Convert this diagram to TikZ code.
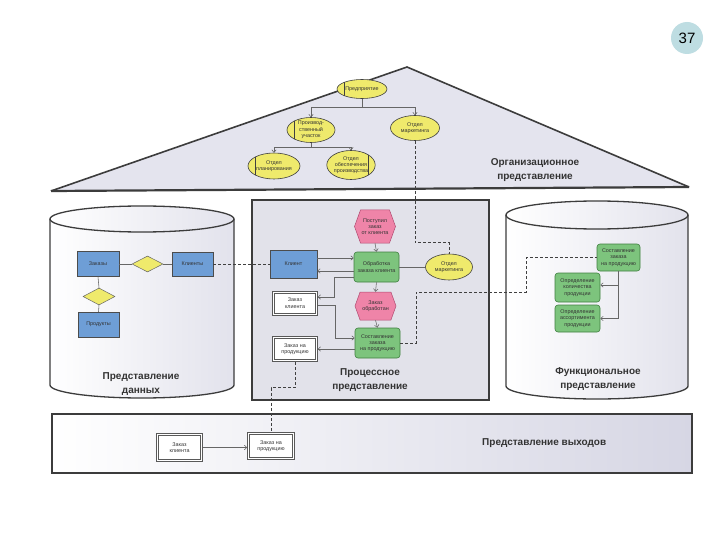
\documentclass[tikz,border=0pt]{standalone}
\usepackage{fontspec}
\setmainfont{Liberation Sans}
\usetikzlibrary{arrows.meta,shapes.geometric,shapes.symbols,calc}
\definecolor{roofc}{HTML}{E4E4EE}
\definecolor{boxc}{HTML}{E2E2EA}
\definecolor{lav}{HTML}{D6D6E4}
\definecolor{ylw}{HTML}{EFEA6C}
\definecolor{blu}{HTML}{6E9ED6}
\definecolor{grn}{HTML}{7DC47D}
\definecolor{grnd}{HTML}{3F7F3F}
\definecolor{pnk}{HTML}{EF84A8}
\definecolor{pnkd}{HTML}{B04A70}
\definecolor{edge}{HTML}{3C3C3C}
\definecolor{badgec}{HTML}{BEDDE2}
\begin{document}
\begin{tikzpicture}[x=1pt,y=-1pt,
  tiny/.style={font=\fontsize{5.4}{6.3}\selectfont, align=center, inner sep=0pt, text=black!80},
  org/.style={ellipse, draw=black!75, fill=ylw, line width=0.6pt, tiny},
  orgL/.style={path picture={\draw[line width=0.6pt,black!75] ([xshift=7pt]path picture bounding box.north west) -- ([xshift=7pt]path picture bounding box.south west);}},
  orgR/.style={path picture={\draw[line width=0.6pt,black!75] ([xshift=-7pt]path picture bounding box.north east) -- ([xshift=-7pt]path picture bounding box.south east);}},
  func/.style={rectangle, rounded corners=3pt, draw=grnd, fill=grn, line width=0.6pt, tiny},
  evt/.style={signal, signal to=east and west, signal pointer angle=140, draw=pnkd, fill=pnk, line width=0.5pt, tiny},
  ent/.style={rectangle, draw=black!70, fill=blu, line width=0.5pt, tiny},
  rel/.style={diamond, draw=black!60, fill=ylw, line width=0.5pt, inner sep=0pt},
  docu/.style={rectangle, draw=black!65, line width=0.5pt, fill=white, tiny,
    path picture={\draw[black!65, line width=0.5pt] ([shift={(1.8pt,-1.8pt)}]path picture bounding box.north west) rectangle ([shift={(-1.8pt,1.8pt)}]path picture bounding box.south east);}},
  conn/.style={draw=black!60, line width=0.55pt},
  arr/.style={conn, -{Straight Barb[length=2.5pt,width=4.5pt]}},
  dsh/.style={draw=black!75, line width=0.8pt, dash pattern=on 3pt off 2pt},
  lbl/.style={font=\bfseries\fontsize{10}{14}\selectfont, align=center, text=black!80, inner sep=0pt},
  cylline/.style={draw=edge, line width=1.3pt}
]
\useasboundingbox (0,0) rectangle (720,540);
\fill[white] (0,0) rectangle (720,540);

% badge
\node[circle, fill=badgec, minimum size=32pt, inner sep=0pt, font=\fontsize{15}{15}\selectfont] (badge) at (687,38) {37};

% roof
\fill[roofc] (51,191) -- (407,67) -- (689,187) -- cycle;
\draw[draw=edge, line width=1.6pt, line join=miter] (51,191) -- (407,67) -- (689,187);
\draw[draw=edge, line width=2.2pt] (51,191) -- (689,187);

% left cylinder
\shade[left color=white, right color=lav!70] (50,219) -- (50,385) arc[start angle=180,end angle=0,x radius=92,y radius=13] -- (234,219) arc[start angle=0,end angle=-180,x radius=92,y radius=13] -- cycle;
\draw[cylline] (50,219) -- (50,385) arc[start angle=180,end angle=0,x radius=92,y radius=13] -- (234,219);
\draw[cylline] (142,219) ellipse[x radius=92,y radius=13];

% right cylinder
\shade[left color=white, right color=lav!70] (506,215) -- (506,386) arc[start angle=180,end angle=0,x radius=91,y radius=13] -- (688,215) arc[start angle=0,end angle=-180,x radius=91,y radius=14] -- cycle;
\draw[cylline] (506,215) -- (506,386) arc[start angle=180,end angle=0,x radius=91,y radius=13] -- (688,215);
\draw[cylline] (597,215) ellipse[x radius=91,y radius=14];

% centre box
\draw[draw=edge, line width=1.6pt, fill=boxc] (252,200) rectangle (489,400);

% output band
\shade[left color=white, right color=lav] (52,414) rectangle (692,473);
\draw[draw=edge, line width=1.6pt] (52,414) rectangle (692,473);

% ---- organisational view ----
\node[org, orgL, minimum width=50pt, minimum height=19pt] (pred) at (362,89) {Предприятие};
\node[org, orgL, minimum width=48pt, minimum height=25pt] (proizv) at (311,130) {Производ-\\ственный\\участок};
\node[org, minimum width=49pt, minimum height=25pt] (mark1) at (415,128) {Отдел\\маркетинга};
\node[org, orgL, minimum width=52pt, minimum height=26pt] (plan) at (274,166) {Отдел\\планирования};
\node[org, orgR, minimum width=48pt, minimum height=29pt] (obesp) at (351,165) {Отдел\\обеспечения\\производства};
\draw[conn] (pred.south) -- ++(0,8) coordinate (j1);
\draw[arr] (j1) -| (proizv.north);
\draw[arr] (j1) -| (mark1.north);
\draw[conn] (proizv.south) -- ++(0,4) coordinate (j2);
\draw[arr] (j2) -| (plan.north);
\draw[arr] (j2) -| (obesp.north);
\node[lbl] (orglbl) at (535,170) {Организационное\\представление};

% ---- data view ----
\node[ent, minimum width=42pt, minimum height=25pt] (zakazy) at (98,264) {Заказы};
\node[rel, minimum width=31pt, minimum height=16pt] (d1) at (147.5,264) {};
\node[ent, minimum width=41pt, minimum height=24pt] (klienty) at (192.5,264) {Клиенты};
\node[rel, minimum width=32pt, minimum height=17pt] (d2) at (99,296.5) {};
\node[ent, minimum width=41pt, minimum height=25pt] (produkty) at (98.5,324.5) {Продукты};
\draw[conn] (zakazy.east) -- (d1.west);
\draw[conn] (d1.east) -- (klienty.west);
\draw[conn] (zakazy.south) -- (d2.north);
\draw[conn] (d2.south) -- (produkty.north);
\node[lbl] (datalbl) at (141,384) {Представление\\данных};

% ---- process view ----
\node[evt, minimum width=41pt, minimum height=33pt] (ev1) at (375,226.5) {Поступил\\заказ\\от клиента};
\node[func, minimum width=45pt, minimum height=30pt] (f1) at (376.5,267) {Обработка\\заказа клиента};
\node[evt, minimum width=41pt, minimum height=28pt] (ev2) at (375.5,306) {Заказ\\обработан};
\node[func, minimum width=45pt, minimum height=30pt] (f2) at (377.5,343) {Составление\\заказа\\на продукцию};
\node[ent, minimum width=47pt, minimum height=28pt] (kl) at (293.5,264) {Клиент};
\node[docu, minimum width=45pt, minimum height=24pt] (zk) at (295,303) {Заказ\\клиента};
\node[docu, minimum width=45pt, minimum height=25pt] (zp) at (295,349) {Заказ на\\продукцию};
\node[org, minimum width=47pt, minimum height=26pt] (mark2) at (449,267) {Отдел\\маркетинга};

\draw[arr] (ev1.south) -- (f1.north);
\draw[arr] (f1.south) -- (ev2.north);
\draw[arr] (ev2.south) -- (f2.north);
\draw[arr] ([yshift=6pt]kl.east) -- ([yshift=6pt]kl.east -| f1.west);
\draw[arr] ([yshift=-4pt]f1.west) -- ([yshift=-4pt]f1.west -| kl.east);
\draw[conn] (f1.east) -- (mark2.west);
\draw[arr] ([yshift=-10pt]f1.west) -- ++(-19,0) |- ([yshift=6pt]zk.east);
\draw[arr] ([yshift=-2pt]zk.east) -- ++(18,0) |- ([yshift=5pt]f2.west);
\draw[arr] ([yshift=-6pt]f2.west) -- ([yshift=-6pt]f2.west -| zp.east);
\node[lbl] (proclbl) at (370,380) {Процессное\\представление};

% ---- functional view ----
\node[func, minimum width=43pt, minimum height=27pt] (sf) at (618.5,257.5) {Составление\\заказа\\на продукцию};
\node[func, minimum width=45pt, minimum height=29pt] (oq) at (577.5,287.5) {Определение\\количества\\продукции};
\node[func, minimum width=45pt, minimum height=27pt] (oa) at (577.5,318.5) {Определение\\ассортимента\\продукции};
\draw[arr] (sf.south) |- ([yshift=2.5pt]oq.east);
\draw[arr] (sf.south) |- (oa.east);
\node[lbl] (funclbl) at (598,379) {Функциональное\\представление};

% ---- output view ----
\node[docu, minimum width=46pt, minimum height=28pt] (zk2) at (179.5,447.5) {Заказ\\клиента};
\node[docu, minimum width=47pt, minimum height=27pt] (zp2) at (271,446) {Заказ на\\продукцию};
\draw[arr] (zk2.east) -- (zk2.east -| zp2.west);
\node[lbl, anchor=west] (outlbl) at (482,443) {Представление выходов};

% ---- dashed cross-view links ----
\draw[dsh] (klienty.east) -- (kl.west);
\draw[dsh] (mark1.south) -- ++(0,102) -| (mark2.north);
\draw[dsh] (f2.east) -- ++(16,0) -- ++(0,-51) -- ++(110,0) |- (sf.west);
\draw[dsh] (zp.south) -- ++(0,26) -| (zp2.north);
\end{tikzpicture}
\end{document}
